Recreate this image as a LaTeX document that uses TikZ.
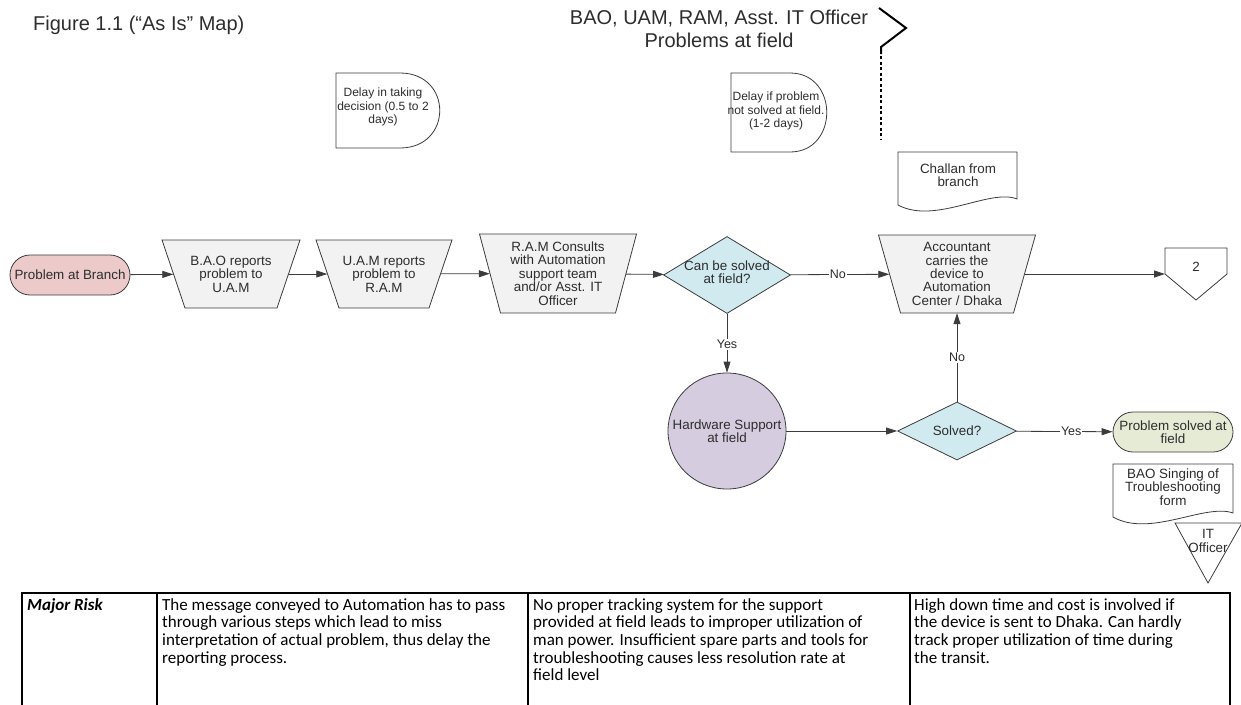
\documentclass[tikz,border=0pt]{standalone}
\usepackage{fontspec}
\setmainfont{Liberation Sans}
\newfontfamily\calibri{Carlito}
\usetikzlibrary{shapes.geometric,arrows.meta}
\definecolor{edge}{RGB}{60,60,60}
\definecolor{txtc}{RGB}{45,45,45}
\definecolor{pinkf}{RGB}{236,202,202}
\definecolor{lavf}{RGB}{213,204,224}
\definecolor{bluef}{RGB}{208,234,240}
\definecolor{greenf}{RGB}{230,235,214}
\definecolor{grayf}{RGB}{242,242,242}
\tikzset{
  shp/.style={draw=edge, line width=0.8pt, inner sep=0pt},
  dia/.style={shp, diamond, fill=bluef},
  term/.style={shp, rectangle, rounded corners=20pt, minimum width=120pt, minimum height=40pt},
  txt/.style={align=center, font=\fontsize{13.4}{13.4}\selectfont, text=txtc, inner sep=0pt},
  stxt/.style={align=center, font=\fontsize{12}{13.8}\selectfont, text=txtc, inner sep=0pt},
  arr/.style={draw=edge, line width=0.8pt, -{Triangle[length=11pt,width=7pt]}},
  lbl/.style={font=\fontsize{12.5}{13.8}\selectfont, text=txtc, fill=white, inner sep=1pt},
  tbl/.style={font=\calibri\fontsize{17}{17.7}\selectfont, align=left, anchor=north west, inner sep=0pt},
}
% #1 name, #2 cx, #3 cy, #4 top width, #5 bottom width, #6 height, #7 text
\newcommand\trapbox[7]{%
  \draw[shp, fill=grayf] ({#2-#4/2},{#3-#6/2}) -- ({#2+#4/2},{#3-#6/2}) -- ({#2+#5/2},{#3+#6/2}) -- ({#2-#5/2},{#3+#6/2}) -- cycle;
  \node[txt, minimum width={(#4+#5)/2}, minimum height={#6}] (#1) at (#2,#3) {#7};}
\begin{document}
\begin{tikzpicture}[x=1pt,y=-1pt]
\useasboundingbox (0,0) rectangle (1241,704);
% title
\node[anchor=west, font=\fontsize{20}{24}\selectfont, text=txtc, inner sep=0pt] (title) at (33,25) {Figure 1.1 (“As Is” Map)};
\node[align=center, font=\fontsize{20}{23}\selectfont, text=txtc, inner sep=0pt] (lane) at (719,29) {BAO, UAM, RAM, Asst. IT Officer\\Problems at field};
% chevron and dotted line
\draw[line width=2pt, line join=miter] (879,8) -- (906,28) -- (881,47) -- (881,54);
\draw[line width=2.6pt, dash pattern=on 3pt off 2.5pt] (881,56) -- (881,140);
% delay shapes
\draw[shp, fill=white] (336,73) -- (400,73) .. controls (453,73) and (453,148) .. (400,148) -- (336,148) -- cycle;
\node[stxt] (delay1) at (383,107) {Delay in taking\\decision (0.5 to 2\\days)};
\draw[shp, fill=white] (731,73) -- (790,73) .. controls (839,73) and (839,152) .. (790,152) -- (731,152) -- cycle;
\node[stxt] (delay2) at (776,111) {Delay if problem\\not solved at field.\\(1-2 days)};
% challan document
\draw[shp, fill=white] (898,152) -- (1017,152) -- (1017,199) .. controls (990,188) and (935,225) .. (898,205) -- cycle;
\node[txt] (challan) at (958,175) {Challan from\\branch};
% main row
\node[term, fill=pinkf] (pab) at (70,275) {};
\node[txt] (pabT) at (pab) {Problem at Branch};
\trapbox{bao}{231}{274}{138}{92}{68}{B.A.O reports\\problem to\\U.A.M}
\trapbox{uam}{384}{274}{136}{90}{68}{U.A.M reports\\problem to\\R.A.M}
\trapbox{ram}{558}{273.5}{157}{115}{79}{R.A.M Consults\\with Automation\\support team\\and/or Asst. IT\\Officer}
\node[dia, minimum width=127pt, minimum height=77pt] (d1) at (727,275) {};
\node[txt] (d1T) at (727,272) {Can be solved\\at field?};
\trapbox{acc}{957}{274}{157}{113}{78}{Accountant\\carries the\\device to\\Automation\\Center / Dhaka}
% off-page connector
\draw[shp, fill=white] (1165,248) -- (1227,248) -- (1227,274) -- (1196,300) -- (1165,274) -- cycle;
\coordinate (offin) at (1165,274);
\node[txt] (offT) at (1196,267) {2};
% lower row
\node[shp, ellipse, fill=lavf, minimum width=118pt, minimum height=116pt] (hw) at (727,431) {};
\node[txt] (hwT) at (hw) {Hardware Support\\at field};
\node[dia, minimum width=119pt, minimum height=58pt] (d2) at (957,431) {};
\node[txt] (d2T) at (d2) {Solved?};
\node[term, fill=greenf] (psf) at (1173,432) {};
\node[txt] (psfT) at (psf) {Problem solved at\\field};
% BAO signing document
\draw[shp, fill=white] (1113,464) -- (1233,464) -- (1233,513) .. controls (1205,503) and (1150,538) .. (1113,517) -- cycle;
\node[txt] (sign) at (1173,487) {BAO Singing of\\Troubleshooting\\form};
% IT officer triangle
\draw[shp, fill=white] (1175,523) -- (1242,523) -- (1208,583) -- cycle;
\node[txt] (itT) at (1208,541) {IT\\Officer};
% connectors
\draw[arr] (pab) -- (bao);
\draw[arr] (bao) -- (uam);
\draw[arr] (uam) -- (ram);
\draw[arr] (ram) -- (d1);
\draw[arr] (d1) -- node[lbl, pos=0.48] (noA) {No} (acc);
\draw[arr] (acc) -- (offin);
\draw[arr] (d1) -- node[lbl, pos=0.52] (yesA) {Yes} (hw);
\draw[arr] (hw) -- (d2);
\draw[arr] (d2) -- node[lbl, pos=0.5] (noB) {No} (acc);
\draw[arr] (d2) -- node[lbl, pos=0.57] (yesB) {Yes} (psf);
% table
\draw[line width=1.6pt] (22,720) -- (22,593) -- (1230,593) -- (1230,720);
\draw[line width=1.3pt] (157,593) -- (157,720) (528,593) -- (528,720) (910,593) -- (910,720);
\node[tbl, font=\calibri\fontsize{17}{17.7}\selectfont\bfseries\itshape] (risk) at (27,598) {Major Risk};
\node[tbl] (c2) at (162,598) {The message conveyed to Automation has to pass\\through various steps which lead to miss\\interpretation of actual problem, thus delay the\\reporting process.};
\node[tbl] (c3) at (533,598) {No proper tracking system for the support\\provided at field leads to improper utilization of\\man power. Insufficient spare parts and tools for\\troubleshooting causes less resolution rate at\\field level};
\node[tbl] (c4) at (914,598) {High down time and cost is involved if\\the device is sent to Dhaka. Can hardly\\track proper utilization of time during\\the transit.};
\end{tikzpicture}
\end{document}
